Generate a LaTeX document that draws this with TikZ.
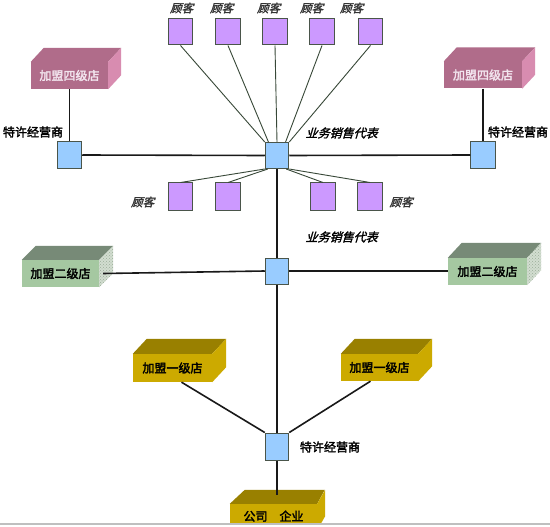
\documentclass[tikz,border=0pt]{standalone}
\usepackage{fontspec}
\newfontfamily\cjkb[FakeBold=2.4]{Noto Sans CJK SC}
\newfontfamily\cjki[FakeSlant=0.3,FakeBold=1.8]{Noto Sans CJK SC}
\usetikzlibrary{calc,patterns}
\definecolor{hubblue}{HTML}{99CCFF}
\definecolor{custpurple}{HTML}{CC99FF}
\definecolor{edgegray}{HTML}{4A554A}
\definecolor{pinkfront}{HTML}{B06C8A}
\definecolor{pinkside}{HTML}{D88CB0}
\definecolor{pinktext}{HTML}{F2E4EE}
\definecolor{greenfront}{HTML}{A5C8A1}
\definecolor{greentop}{HTML}{778A77}
\definecolor{greenside}{HTML}{D2DDD0}
\definecolor{greendots}{HTML}{9AAE98}
\definecolor{goldfront}{HTML}{CCAA00}
\definecolor{goldtop}{HTML}{998000}
\definecolor{thinline}{HTML}{384838}
\tikzset{
  hub/.style={draw=edgegray, line width=1pt, fill=hubblue, minimum width=23.5pt, minimum height=26pt, inner sep=0pt},
  cust/.style={draw=edgegray, line width=1pt, fill=custpurple, minimum width=24.5pt, minimum height=27pt, inner sep=0pt},
  pink front/.style={fill=pinkfront, text=pinktext, font=\cjkb\fontsize{12}{14}\selectfont, inner sep=0pt},
  pink top/.style={fill=pinkfront},
  pink side/.style={fill=pinkside},
  green front/.style={fill=greenfront, text=black, font=\cjkb\fontsize{12}{14}\selectfont, inner sep=0pt},
  green top/.style={fill=greentop},
  green side/.style={fill=greenside, postaction={pattern=crosshatch dots, pattern color=greendots}},
  gold front/.style={fill=goldfront, text=black, font=\cjkb\fontsize{12}{14}\selectfont, inner sep=0pt},
  gold top/.style={fill=goldtop},
  gold side/.style={fill=goldfront},
  mainline/.style={draw=black!90, line width=1.6pt},
  custline/.style={draw=thinline, line width=0.9pt},
  lbl/.style={font=\cjkb\fontsize{12}{14}\selectfont, inner sep=0pt},
  ilbl/.style={font=\cjki\fontsize{12}{14}\selectfont, inner sep=0pt},
  clbl/.style={font=\cjki\fontsize{11.5}{13}\selectfont, text=black!80, inner sep=0pt},
}
% #1 name, #2 centre, #3 width, #4 height, #5 depth offset, #6 kind, #7 text
\newcommand\cuboidbox[7]{%
  \node[#6 front, minimum width=#3pt, minimum height=#4pt] (#1) at #2 {#7};
  \fill[#6 top] (#1.north west) -- ++(#5) -- ($(#1.north east)+(#5)$) -- (#1.north east) -- cycle;
  \fill[#6 side] (#1.north east) -- ++(#5) -- ($(#1.south east)+(#5)$) -- (#1.south east) -- cycle;
}
\begin{document}
\begin{tikzpicture}[x=1pt,y=-1pt]
\fill[white] (0,0) rectangle (550,527);
\useasboundingbox (0,0) rectangle (550,527);
\begin{scope}
\clip (0,0) rectangle (550,523);
% 3D boxes
\cuboidbox{pL}{(69.5,75.5)}{77}{27}{13,-14}{pink}{加盟四级店}
\cuboidbox{pR}{(483,75)}{78}{27}{13,-14}{pink}{加盟四级店}
\cuboidbox{gL}{(60.5,273.5)}{77}{27}{14,-14}{green}{加盟二级店}
\cuboidbox{gR}{(487.5,271.5)}{79}{27}{14,-15}{green}{加盟二级店}
\cuboidbox{yL}{(172.5,368)}{79}{28}{14,-15}{gold}{加盟一级店}
\cuboidbox{yR}{(379.5,367.5)}{77}{27}{14,-15}{gold}{加盟一级店}
% company box
\node[gold front, minimum width=87pt, minimum height=26pt] (co) at (273.5,517) {公司\hspace{12pt}\underline{企业}};
\fill[gold top] (co.north west) -- ++(15,-14) -- ++(80,0) -- (co.north east) -- cycle;
\fill[gold side] (co.north east) -- ++(8,-14) -- ($(co.south east)+(8,-14)$) -- (co.south east) -- cycle;
\coordinate (coTop) at (277,495);
\end{scope}
\draw[black!25, line width=1.2pt] (0,524) -- (550,524);

% hubs
\node[hub, minimum width=24.5pt, minimum height=27pt] (hubL) at (69.5,155) {};
\node[hub, minimum width=24.5pt, minimum height=27pt] (hubR) at (483,155) {};
\node[hub] (hubC) at (277,155.5) {};
\node[hub] (hub2) at (277,271) {};
\node[hub, minimum height=27pt] (hub3) at (277,446.5) {};

% customers (top row)
\node[cust, minimum height=26pt] (c1) at (180.5,32) {};
\node[cust, minimum height=26pt] (c2) at (228,32) {};
\node[cust, minimum height=26pt] (c3) at (275,32) {};
\node[cust, minimum height=26pt] (c4) at (322,32) {};
\node[cust, minimum height=26pt] (c5) at (370.5,32) {};
% customers (lower row)
\node[cust, minimum height=28pt] (d1) at (180.5,197) {};
\node[cust, minimum height=28pt] (d2) at (228,197) {};
\node[cust, minimum height=28pt] (d4) at (323,197) {};
\node[cust, minimum height=28pt] (d5) at (370,197) {};

% labels
\node[clbl] (lc1) at (181.5,8) {顾客};
\node[clbl] (lc2) at (221.5,8) {顾客};
\node[clbl] (lc3) at (268.5,8) {顾客};
\node[clbl] (lc4) at (311.5,8) {顾客};
\node[clbl] (lc5) at (351.5,8) {顾客};
\node[clbl] (ld1) at (142.5,202) {顾客};
\node[clbl] (ld5) at (401,202) {顾客};
\node[lbl] (tL) at (33,132) {特许经营商};
\node[lbl] (tR) at (518,132) {特许经营商};
\node[lbl] (tB) at (330,447) {特许经营商};
\node[ilbl] (s1) at (341.5,133) {业务销售代表};
\node[ilbl] (s2) at (341.5,237) {业务销售代表};

% customer connectors
\draw[custline] (c1.south) -- (hubC.north west);
\draw[custline] (c2.south) -- ($(hubC.north west)!0.3!(hubC.north)$);
\draw[custline] (c3.south) -- (hubC.north);
\draw[custline] (c4.south) -- ($(hubC.north east)!0.3!(hubC.north)$);
\draw[custline] (c5.south) -- (hubC.north east);
\draw[custline] (hubC.south west) -- (d1.north);
\draw[custline] ($(hubC.south west)!0.25!(hubC.south)$) -- (d2.north);
\draw[custline] ($(hubC.south east)!0.25!(hubC.south)$) -- (d4.north);
\draw[custline] (hubC.south east) -- (d5.north);

% main connectors
\draw[mainline] (pL.south) -- (hubL.north);
\draw[mainline] (pR.south) -- (hubR.north);
\draw[mainline] (hubL.east) -- (hubC.west);
\draw[mainline] (hubC.east) -- (hubR.west);
\draw[mainline] (hubC.south) -- (hub2.north);
\draw[mainline] ($(gL.east)+(4,0)$ |- hub2.west) -- (hub2.west);
\draw[mainline] (hub2.east) -- (hub2.east -| gR.west);
\draw[mainline] (hub2.south) -- (hub3.north);
\draw[mainline] ($(yL.south)+(9,0)$) -- (hub3.north west);
\draw[mainline] ($(yR.south)+(-9,0)$) -- (hub3.north east);
\draw[mainline] (hub3.south) -- (coTop);
\end{tikzpicture}
\end{document}
